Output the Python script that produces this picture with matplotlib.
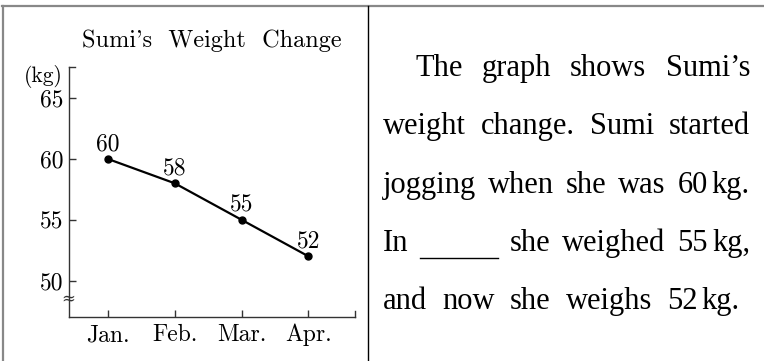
import matplotlib.pyplot as plt
from matplotlib.lines import Line2D

# chart data
months = ['Jan.', 'Feb.', 'Mar.', 'Apr.']
weights = [60, 58, 55, 52]
y_ticks = [50, 55, 60, 65]
title = "Sumi's  Weight  Change"
unit = '(kg)'

# text block, one list per printed line ('_' is the blank to fill in)
lines = [
    ['The', 'graph', 'shows', 'Sumi\u2019s'],
    ['weight', 'change.', 'Sumi', 'started'],
    ['jogging', 'when', 'she', 'was', '60 kg.'],
    ['In', '_', 'she', 'weighed', '55 kg,'],
    ['and', 'now', 'she', 'weighs', '52 kg.'],
]

W, H = 764, 361
fig = plt.figure(figsize=(W / 100, H / 100), dpi=100)
cm = 'cmr10'
spine_c = '#333333'

# ---- the graph ----
ax = fig.add_axes([69 / W, 1 - 317 / H, (355 - 69) / W, (317 - 67) / H])
x = list(range(len(months)))
ax.plot(x, weights, color='black', lw=1.6, marker='o', ms=5, zorder=3)
for xi, w in zip(x, weights):
    ax.annotate(str(w), (xi, w), xytext=(0, 6), textcoords='offset points',
                ha='center', va='baseline', fontsize=17, family=cm)
ax.set_xlim(-0.585, 3.70)
ax.set_ylim(47.0, 67.57)
ax.set_xticks(x, months)
ax.set_yticks(y_ticks, [str(v) for v in y_ticks])
ax.tick_params(direction='in', length=5, width=1, color=spine_c)
ax.tick_params(axis='y', pad=4)
ax.tick_params(axis='x', pad=5)
for lab in ax.get_xticklabels():
    lab.set_fontsize(17)
    lab.set_family(cm)
for lab in ax.get_yticklabels():
    lab.set_fontsize(17)
    lab.set_family(cm)
for s in ['top', 'right']:
    ax.spines[s].set_visible(False)
for s in ['left', 'bottom']:
    ax.spines[s].set_color(spine_c)
    ax.spines[s].set_linewidth(1)
# small end marks on the axes
ax.plot([0, 0.02], [1, 1], transform=ax.transAxes, color=spine_c, lw=1, clip_on=False)
ax.plot([1, 1], [0, 0.025], transform=ax.transAxes, color=spine_c, lw=1, clip_on=False)

fig.text(212 / W, 1 - 41 / H, title, ha='center', va='center', fontsize=17.5, family=cm)
fig.text(63 / W, 1 - 76 / H, unit, ha='right', va='center', fontsize=15.5, family=cm)
fig.text(68 / W, 1 - 299 / H, '\u2248', ha='center', va='center', fontsize=12,
         family='DejaVu Serif', color=spine_c)

# ---- table frame ----
fig.add_artist(Line2D([2 / W, 1], [1 - 5.5 / H, 1 - 5.5 / H], color='#888888', lw=1.6))
fig.add_artist(Line2D([2.5 / W, 2.5 / W], [0, 1 - 5.5 / H], color='#888888', lw=1.6))
fig.add_artist(Line2D([368 / W, 368 / W], [0, 1 - 6 / H], color='black', lw=1))

# ---- justified paragraph ----
fs = 22
ff = 'Liberation Serif'
renderer = fig.canvas.get_renderer()
blank_w = 78
thin = 4


def text_w(s):
    t = fig.text(0, 0, s, fontsize=fs, family=ff)
    w = t.get_window_extent(renderer).width
    t.remove()
    return w


def token_w(tok):
    if tok == '_':
        return blank_w
    parts = tok.split(' ')
    return sum(text_w(p) for p in parts) + thin * (len(parts) - 1)


baselines = [76, 134, 193, 251, 309]
lefts = [415, 383, 383, 383, 383]
rights = [750, 750, 750, 750, 740]
for words, yb, xl, xr in zip(lines, baselines, lefts, rights):
    widths = [token_w(t) for t in words]
    gap = (xr - xl - sum(widths)) / (len(words) - 1)
    cur = xl
    for tok, tw in zip(words, widths):
        if tok == '_':
            fig.add_artist(Line2D([cur / W, (cur + blank_w) / W],
                                  [1 - (yb + 7) / H, 1 - (yb + 7) / H], color='black', lw=1))
        else:
            px = cur
            for p in tok.split(' '):
                fig.text(px / W, 1 - yb / H, p, ha='left', va='baseline', fontsize=fs, family=ff)
                px += text_w(p) + thin
        cur += tw + gap

fig.savefig('out.png', dpi=100)
